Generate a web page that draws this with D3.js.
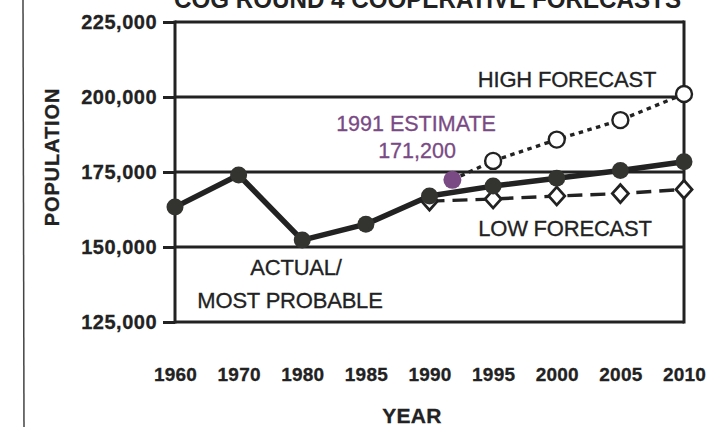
<!DOCTYPE html>
<html><head><meta charset="utf-8">
<script src="https://cdn.jsdelivr.net/npm/d3@7"></script>
<style>
html,body{margin:0;padding:0;background:#fff;}
svg{display:block;font-family:"Liberation Sans",Arial,Helvetica,sans-serif;}
</style></head>
<body>
<svg id="chart" width="710" height="427"></svg>
<script>
// ---- data ----
const years = [1960, 1970, 1980, 1985, 1990, 1995, 2000, 2005, 2010];
const yearLabels = ["1960","1970","1980","1985","1990","1995","2000","2005","2010"];
const actualValues = [163300, 174000, 152300, 157600, 167000, 170300, 172900, 175500, 178400];
const lowYears = [1990, 1995, 2000, 2005, 2010];
const lowValues = [165300, 166000, 167000, 167800, 169200];
const highYears = [1995, 2000, 2005, 2010];
const highValues = [178700, 185800, 192300, 201000];
const estimateYear = 1991.8;
const estimateValue = 172400;
const estimateLabel = ["1991 ESTIMATE", "171,200"];
const yTicks = [125000, 150000, 175000, 200000, 225000];
const title = "COG ROUND 4 COOPERATIVE FORECASTS";

// ---- layout ----
const pLeft = 175, pRight = 684, pTop = 22, pBottom = 322;
const ink = "#222";
const purple = "#7a4a84";
const svg = d3.select("#chart");

const step = (pRight - pLeft) / (years.length - 1);
const x = d3.scaleLinear().domain(years).range(years.map((d, i) => pLeft + i * step));
const y = d3.scaleLinear().domain([125000, 225000]).range([pBottom, pTop]);

// page border line from scan
svg.append("line").attr("x1", 23).attr("x2", 24).attr("y1", 0).attr("y2", 427)
  .attr("stroke", "#444").attr("stroke-width", 1.5);

// title (cut off at top, as in the scanned original)
svg.append("text").attr("x", (pLeft + pRight) / 2 - 2).attr("y", 8)
  .attr("text-anchor", "middle").attr("font-weight", "bold").attr("font-size", 25)
  .attr("fill", ink).attr("textLength", 507).attr("lengthAdjust", "spacingAndGlyphs")
  .text(title);

// y axis with ticks
const yAxis = d3.axisLeft(y).tickValues(yTicks).tickSize(12).tickPadding(6)
  .tickFormat(d3.format(","));
const gy = svg.append("g").attr("transform", `translate(${pLeft},0)`).call(yAxis);
gy.select(".domain").remove();
gy.selectAll(".tick line").attr("stroke", ink).attr("stroke-width", 3);
gy.selectAll(".tick text").attr("font-size", 20).attr("font-weight", "bold")
  .attr("fill", ink).attr("font-family", "Liberation Sans, Arial, sans-serif")
  .attr("letter-spacing", 0.5).attr("stroke", ink).attr("stroke-width", 0.3);

// horizontal grid lines across plot
svg.append("g").selectAll("line").data(yTicks).join("line")
  .attr("x1", pLeft).attr("x2", pRight)
  .attr("y1", d => y(d)).attr("y2", d => y(d))
  .attr("stroke", ink).attr("stroke-width", 3);
// frame verticals
svg.append("line").attr("x1", pLeft).attr("x2", pLeft).attr("y1", pTop - 1.5).attr("y2", pBottom + 1.5)
  .attr("stroke", ink).attr("stroke-width", 3);
svg.append("line").attr("x1", pRight).attr("x2", pRight).attr("y1", pTop - 1.5).attr("y2", pBottom + 1.5)
  .attr("stroke", ink).attr("stroke-width", 3);

// x axis labels
const xAxis = d3.axisBottom(x).tickValues(years).tickSize(0).tickPadding(0)
  .tickFormat((d, i) => yearLabels[i]);
const gx = svg.append("g").attr("transform", `translate(0,${pBottom + 45})`).call(xAxis);
gx.select(".domain").remove();
gx.selectAll(".tick text").attr("font-size", 19).attr("font-weight", "bold")
  .attr("fill", ink).attr("font-family", "Liberation Sans, Arial, sans-serif")
  .attr("letter-spacing", 0.2).attr("stroke", ink).attr("stroke-width", 0.3);

// axis titles
svg.append("text").attr("x", 412).attr("y", 423).attr("text-anchor", "middle")
  .attr("font-size", 21).attr("font-weight", "bold").attr("fill", ink).attr("letter-spacing", 0.3)
  .attr("stroke", ink).attr("stroke-width", 0.3)
  .text("YEAR");
svg.append("text").attr("transform", "translate(59,157) rotate(-90)").attr("text-anchor", "middle")
  .attr("font-size", 20).attr("font-weight", "bold").attr("fill", ink).attr("letter-spacing", 0.9)
  .attr("stroke", ink).attr("stroke-width", 0.3)
  .text("POPULATION");

const line = d3.line().x(d => x(d[0])).y(d => y(d[1]));

// low forecast (dashed, diamonds)
const lowPts = lowYears.map((d, i) => [d, lowValues[i]]);
svg.append("path").attr("d", line(lowPts)).attr("fill", "none").attr("stroke", ink)
  .attr("stroke-width", 3.4).attr("stroke-dasharray", "15,8");
// high forecast (dotted, open circles), starting from the 1991 estimate
const highPts = [[estimateYear, estimateValue]].concat(highYears.map((d, i) => [d, highValues[i]]));
svg.append("path").attr("d", line(highPts)).attr("fill", "none").attr("stroke", ink)
  .attr("stroke-width", 3.4).attr("stroke-dasharray", "4.5,4.5");

const sq = d3.symbol().type(d3.symbolSquare).size(130);
svg.append("g").selectAll("path").data(lowPts).join("path")
  .attr("transform", d => `translate(${x(d[0])},${y(d[1])}) scale(1,1.12) rotate(45)`)
  .attr("d", sq).attr("fill", "#fff").attr("stroke", ink).attr("stroke-width", 2.6);
svg.append("g").selectAll("circle").data(highPts.slice(1)).join("circle")
  .attr("cx", d => x(d[0])).attr("cy", d => y(d[1])).attr("r", 8)
  .attr("fill", "#fff").attr("stroke", ink).attr("stroke-width", 2.4);

// actual / most probable
const actPts = years.map((d, i) => [d, actualValues[i]]);
svg.append("path").attr("d", line(actPts)).attr("fill", "none").attr("stroke", ink)
  .attr("stroke-width", 5.5).attr("stroke-linejoin", "round");
svg.append("g").selectAll("circle").data(actPts).join("circle")
  .attr("cx", d => x(d[0])).attr("cy", d => y(d[1])).attr("r", 8.5)
  .attr("fill", "#333330");

// 1991 estimate
svg.append("circle").attr("cx", x(estimateYear)).attr("cy", y(estimateValue)).attr("r", 9)
  .attr("fill", purple);
const estText = svg.append("g").attr("fill", purple).attr("font-size", 21.5)
  .attr("text-anchor", "middle").attr("stroke", purple).attr("stroke-width", 0.3);
estText.append("text").attr("x", 416).attr("y", 131).text(estimateLabel[0]);
estText.append("text").attr("x", 417).attr("y", 158).text(estimateLabel[1]);

// annotations
const ann = [
  {t: "HIGH FORECAST", x: 567, y: 87},
  {t: "LOW FORECAST", x: 565, y: 236},
  {t: "ACTUAL/", x: 296, y: 275},
  {t: "MOST PROBABLE", x: 290, y: 308}
];
svg.append("g").selectAll("text").data(ann).join("text")
  .attr("x", d => d.x).attr("y", d => d.y).attr("text-anchor", "middle")
  .attr("font-size", 22).attr("fill", ink).attr("stroke", ink).attr("stroke-width", 0.3)
  .attr("letter-spacing", -0.2)
  .text(d => d.t);
</script>
</body></html>
